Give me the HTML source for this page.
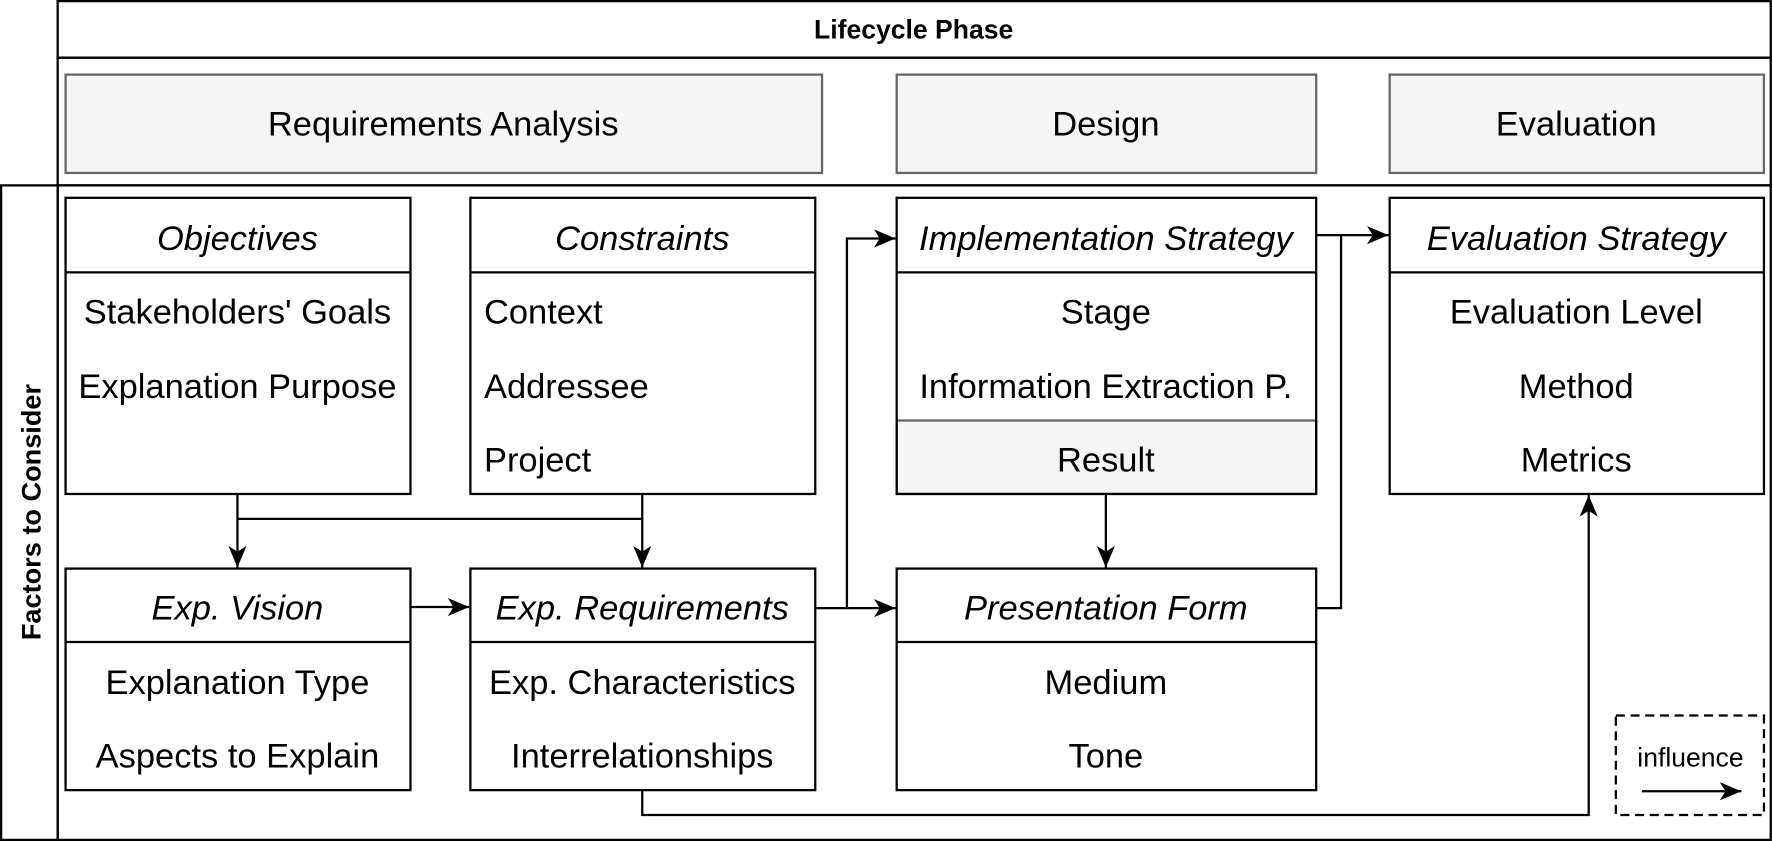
<!DOCTYPE html>
<html><head><meta charset="utf-8"><style>
html,body{margin:0;padding:0;background:#fff;}
svg{display:block;}
text{font-family:"Liberation Sans",Arial,sans-serif;fill:#000;}
.t{font-size:30.5px;}
.i{font-size:30.5px;font-style:italic;}
</style></head><body>
<svg width="1773" height="841" viewBox="0 0 1568 744" preserveAspectRatio="none" xmlns="http://www.w3.org/2000/svg">
<defs><marker id="a" markerWidth="20" markerHeight="20" refX="19" refY="8" orient="auto" markerUnits="userSpaceOnUse"><path d="M0,0 L19,8 L0,16 L5,8 z" fill="#000"/></marker></defs>
<g fill="none" stroke="#000" stroke-width="2">
<rect x="51" y="1" width="1515" height="50" fill="#fff"/>
<rect x="51" y="51" width="1515" height="113"/>
<rect x="1" y="164" width="50" height="579"/>
<rect x="51" y="164" width="1515" height="579"/>
</g>
<text x="808" y="34" text-anchor="middle" font-size="23.5" font-weight="bold">Lifecycle Phase</text>
<text transform="translate(36,453) rotate(-90)" text-anchor="middle" font-size="24" font-weight="bold">Factors to Consider</text>
<g fill="#f5f5f5" stroke="#666" stroke-width="2">
<rect x="58" y="66" width="669" height="87"/>
<rect x="793" y="66" width="371" height="87"/>
<rect x="1229" y="66" width="331" height="87"/>
<rect x="793" y="372" width="371" height="65"/>
</g>
<text class="t" x="392" y="120" text-anchor="middle">Requirements Analysis</text>
<text class="t" x="978" y="120" text-anchor="middle">Design</text>
<text class="t" x="1394" y="120" text-anchor="middle">Evaluation</text>
<g fill="none" stroke="#000" stroke-width="2">
<rect x="58" y="175" width="305" height="262"/><line x1="58" y1="241" x2="363" y2="241"/>
<rect x="416" y="175" width="305" height="262"/><line x1="416" y1="241" x2="721" y2="241"/>
<rect x="793" y="175" width="371" height="262"/><line x1="793" y1="241" x2="1164" y2="241"/>
<rect x="1229" y="175" width="331" height="262"/><line x1="1229" y1="241" x2="1560" y2="241"/>
<rect x="58" y="503" width="305" height="196"/><line x1="58" y1="568" x2="363" y2="568"/>
<rect x="416" y="503" width="305" height="196"/><line x1="416" y1="568" x2="721" y2="568"/>
<rect x="793" y="503" width="371" height="196"/><line x1="793" y1="568" x2="1164" y2="568"/>
<rect x="1429" y="633" width="131" height="88" stroke-dasharray="8,5"/>
</g>
<g stroke="#000" stroke-width="2" fill="none">
<path d="M210 437 V502" marker-end="url(#a)"/>
<path d="M568 437 V502" marker-end="url(#a)"/>
<path d="M210 459 H568"/>
<path d="M363 537 H415" marker-end="url(#a)"/>
<path d="M721 538 H792" marker-end="url(#a)"/>
<path d="M749 538 V211 H792" marker-end="url(#a)"/>
<path d="M978 437 V502" marker-end="url(#a)"/>
<path d="M1164 208 H1228" marker-end="url(#a)"/>
<path d="M1164 538 H1186 V208"/>
<path d="M568 699 V721 H1405 V438" marker-end="url(#a)"/>
<path d="M1452 700 H1540" marker-end="url(#a)"/>
</g>
<text class="i" x="210" y="221" text-anchor="middle">Objectives</text>
<text class="t" x="210" y="286" text-anchor="middle">Stakeholders' Goals</text>
<text class="t" x="210" y="352" text-anchor="middle">Explanation Purpose</text>
<text class="i" x="568" y="221" text-anchor="middle">Constraints</text>
<text class="t" x="428" y="286">Context</text>
<text class="t" x="428" y="352">Addressee</text>
<text class="t" x="428" y="417">Project</text>
<text class="i" x="978" y="221" text-anchor="middle">Implementation Strategy</text>
<text class="t" x="978" y="286" text-anchor="middle">Stage</text>
<text class="t" x="978" y="352" text-anchor="middle">Information Extraction P.</text>
<text class="t" x="978" y="417" text-anchor="middle">Result</text>
<text class="i" x="1394" y="221" text-anchor="middle">Evaluation Strategy</text>
<text class="t" x="1394" y="286" text-anchor="middle">Evaluation Level</text>
<text class="t" x="1394" y="352" text-anchor="middle">Method</text>
<text class="t" x="1394" y="417" text-anchor="middle">Metrics</text>
<text class="i" x="210" y="548" text-anchor="middle">Exp. Vision</text>
<text class="t" x="210" y="614" text-anchor="middle">Explanation Type</text>
<text class="t" x="210" y="679" text-anchor="middle">Aspects to Explain</text>
<text class="i" x="568" y="548" text-anchor="middle">Exp. Requirements</text>
<text class="t" x="568" y="614" text-anchor="middle">Exp. Characteristics</text>
<text class="t" x="568" y="679" text-anchor="middle">Interrelationships</text>
<text class="i" x="978" y="548" text-anchor="middle">Presentation Form</text>
<text class="t" x="978" y="614" text-anchor="middle">Medium</text>
<text class="t" x="978" y="679" text-anchor="middle">Tone</text>
<text x="1495" y="678" text-anchor="middle" font-size="23.5">influence</text>
</svg>
</body></html>
